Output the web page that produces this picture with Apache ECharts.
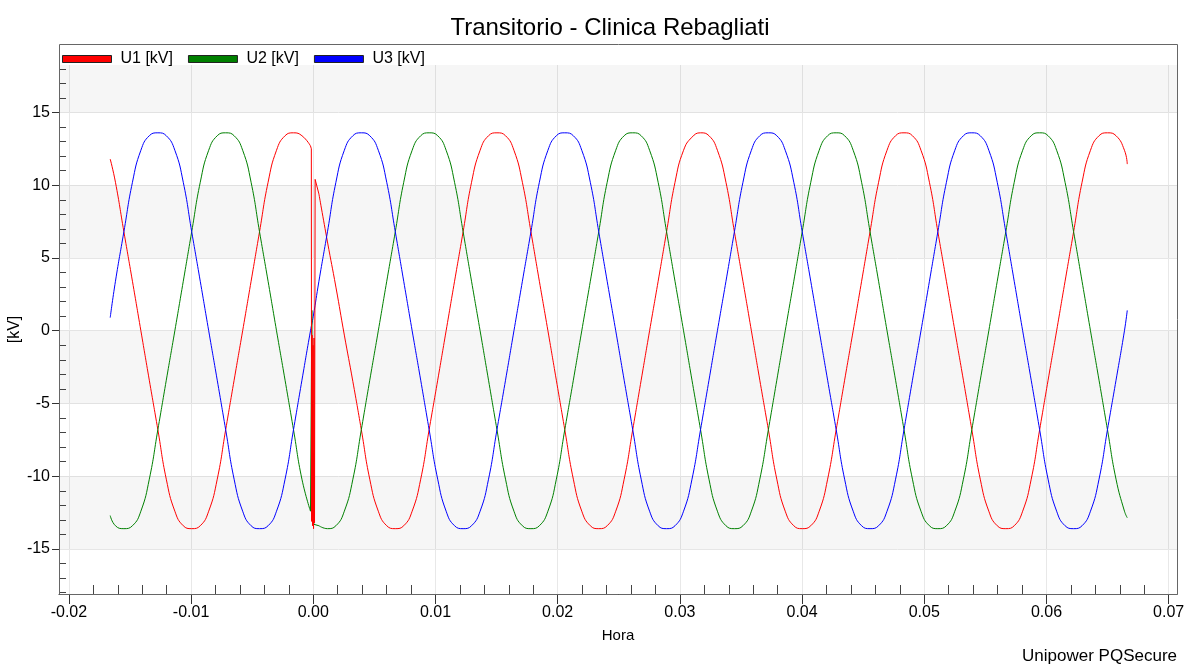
<!DOCTYPE html>
<html>
<head>
<meta charset="utf-8">
<script src="https://cdn.jsdelivr.net/npm/echarts@6/dist/echarts.min.js"></script>
<style>
  html, body { margin: 0; padding: 0; background: #ffffff; }
  #chart { width: 1185px; height: 665px; }
</style>
</head>
<body>
<div id="chart"></div>
<script>
// Sample instants [s] of the recorded waveform (null row at 0 marks the switching event)
const time = [
  -0.01662,
  -0.01619, -0.0155, -0.0148, -0.01411, -0.01342, -0.01272, -0.01203, -0.01133, -0.01064, -0.00995,
  -0.00925, -0.00856, -0.00786, -0.00717, -0.00648, -0.00578, -0.00509, -0.0044, -0.0037, -0.00301, -0.00231,
  -0.00162, -0.00093, -0.00023,
  0,
  0.00046, 0.00116, 0.00185, 0.00254, 0.00324, 0.00393, 0.00462, 0.00532, 0.00601, 0.00671, 0.0074,
  0.00809, 0.00879, 0.00948, 0.01018, 0.01087, 0.01156, 0.01226, 0.01295, 0.01365, 0.01434,
  0.01503, 0.01573, 0.01642, 0.01711, 0.01781, 0.0185, 0.0192, 0.01989, 0.02058, 0.02128, 0.02197, 0.02267,
  0.02336, 0.02405, 0.02475, 0.02544, 0.02614, 0.02683, 0.02752, 0.02822, 0.02891, 0.0296, 0.0303, 0.03099,
  0.03169, 0.03238, 0.03307, 0.03377, 0.03446, 0.03516, 0.03585, 0.03654, 0.03724, 0.03793, 0.03862, 0.03932,
  0.04001, 0.04071, 0.0414, 0.04209, 0.04279, 0.04348, 0.04418, 0.04487, 0.04556, 0.04626, 0.04695, 0.04765,
  0.04834, 0.04903, 0.04973, 0.05042, 0.05111, 0.05181, 0.0525, 0.0532, 0.05389, 0.05458, 0.05528, 0.05597,
  0.05667, 0.05736, 0.05805, 0.05875, 0.05944, 0.06013, 0.06083, 0.06152, 0.06222, 0.06291, 0.0636, 0.0643,
  0.06499, 0.06569, 0.06638,
  0.06661
];

// Phase voltages [kV]
const u1 = [
  11.8,
  10.2, 6.8, 3.4, 0.0, -3.4, -6.8, -10.2, -12.4, -13.4, -13.6,
  -13.4, -12.4, -10.2, -6.8, -3.4, 0.0, 3.4, 6.8, 10.2, 12.4, 13.4,
  13.6, 13.4, 12.7,
  null,
  9.4, 6.1, 3.0, -0.3, -3.5, -6.8, -10.2, -12.4, -13.4, -13.6, -13.4,
  -12.4, -10.2, -6.8, -3.4, 0.0, 3.4, 6.8, 10.2, 12.4, 13.4,
  13.6, 13.4, 12.4, 10.2, 6.8, 3.4, 0.0, -3.4, -6.8, -10.2, -12.4, -13.4,
  -13.6, -13.4, -12.4, -10.2, -6.8, -3.4, 0.0, 3.4, 6.8, 10.2, 12.4, 13.3,
  13.6, 13.4, 12.4, 10.2, 6.8, 3.4, 0.0, -3.4, -6.8, -10.2, -12.4, -13.4,
  -13.6, -13.4, -12.4, -10.2, -6.8, -3.4, 0.0, 3.4, 6.8, 10.2, 12.4, 13.4,
  13.6, 13.4, 12.4, 10.2, 6.8, 3.4, 0.0, -3.4, -6.8, -10.2, -12.4, -13.4,
  -13.6, -13.4, -12.4, -10.2, -6.8, -3.4, 0.0, 3.4, 6.8, 10.2, 12.4, 13.4,
  13.6, 13.4, 12.4,
  11.45
];

const u2 = [
  -12.7,
  -13.4, -13.6, -13.4, -12.4, -10.2, -6.8, -3.4, 0.0, 3.4, 6.8,
  10.2, 12.4, 13.4, 13.6, 13.4, 12.4, 10.2, 6.8, 3.4, 0.0, -3.4,
  -6.8, -10.2, -12.4,
  null,
  -13.4, -13.6, -13.4, -12.4, -10.2, -6.8, -3.4, 0.0, 3.4, 6.8, 10.2,
  12.4, 13.4, 13.6, 13.4, 12.4, 10.2, 6.8, 3.4, 0.0, -3.4,
  -6.8, -10.2, -12.4, -13.4, -13.6, -13.4, -12.4, -10.2, -6.8, -3.4, 0.0, 3.4,
  6.8, 10.2, 12.4, 13.4, 13.6, 13.4, 12.4, 10.2, 6.8, 3.4, 0.0, -3.4,
  -6.8, -10.2, -12.4, -13.4, -13.6, -13.4, -12.4, -10.2, -6.8, -3.4, 0.0, 3.4,
  6.8, 10.2, 12.4, 13.4, 13.6, 13.4, 12.4, 10.2, 6.8, 3.4, 0.0, -3.4,
  -6.8, -10.2, -12.4, -13.4, -13.6, -13.4, -12.4, -10.2, -6.8, -3.4, 0.0, 3.4,
  6.8, 10.2, 12.4, 13.4, 13.6, 13.4, 12.4, 10.2, 6.8, 3.4, 0.0, -3.4,
  -6.8, -10.2, -12.4,
  -12.85
];

const u3 = [
  0.9,
  3.4, 6.8, 10.2, 12.4, 13.4, 13.6, 13.4, 12.4, 10.2, 6.8,
  3.4, 0.0, -3.4, -6.8, -10.2, -12.4, -13.4, -13.6, -13.4, -12.4, -10.2,
  -6.8, -3.4, 0.0,
  1.0,
  3.4, 6.8, 10.2, 12.4, 13.4, 13.6, 13.4, 12.4, 10.2, 6.8, 3.4,
  0.0, -3.4, -6.8, -10.2, -12.4, -13.4, -13.6, -13.4, -12.4, -10.2,
  -6.8, -3.4, 0.0, 3.4, 6.8, 10.2, 12.4, 13.4, 13.6, 13.4, 12.4, 10.2,
  6.8, 3.4, 0.0, -3.4, -6.8, -10.2, -12.4, -13.4, -13.6, -13.4, -12.4, -10.2,
  -6.8, -3.4, 0.0, 3.4, 6.8, 10.2, 12.4, 13.4, 13.6, 13.4, 12.4, 10.2,
  6.8, 3.4, 0.0, -3.4, -6.8, -10.2, -12.4, -13.4, -13.6, -13.4, -12.4, -10.2,
  -6.8, -3.4, 0.0, 3.4, 6.8, 10.2, 12.4, 13.4, 13.6, 13.4, 12.4, 10.2,
  6.8, 3.4, 0.0, -3.4, -6.8, -10.2, -12.4, -13.4, -13.6, -13.4, -12.4, -10.2,
  -6.8, -3.4, 0.0,
  1.4
];

// Switching transient around t = 0
const transientTimeU1 = [-0.00023, -0.00016, -0.00014, -0.0001, -0.00006, -0.00002, 0.00002, 0.00006, 0.0001, 0.00015, 0.00046];
const transientU1 = [12.7, 12.5, -13.1, -0.3, -13.4, -1.0, -13.6, -0.5, -13.2, 10.4, 9.4];
const transientTimeU2 = [-0.00023, -0.00014, -0.00012, -0.00009, -0.00006, -0.00003, 0, 0.00004, 0.00046];
const transientU2 = [-12.4, -12.3, 1.4, -12.0, -4.8, -12.2, -8.4, -13.3, -13.4];

// Axis ticks
const xTicks = [-0.02, -0.01, 0, 0.01, 0.02, 0.03, 0.04, 0.05, 0.06, 0.07];
const xMinorTicks = [-0.018, -0.016, -0.014, -0.012, -0.008, -0.006, -0.004, -0.002,
  0.002, 0.004, 0.006, 0.008, 0.012, 0.014, 0.016, 0.018, 0.022, 0.024, 0.026, 0.028,
  0.032, 0.034, 0.036, 0.038, 0.042, 0.044, 0.046, 0.048, 0.052, 0.054, 0.056, 0.058,
  0.062, 0.064, 0.066, 0.068];
const yTicks = [-15, -10, -5, 0, 5, 10, 15];
const yMinorTicks = [-18, -17, -16, -14, -13, -12, -11, -9, -8, -7, -6, -4, -3, -2, -1,
  1, 2, 3, 4, 6, 7, 8, 9, 11, 12, 13, 14, 16, 17, 18];

const seriesNames = ['U1 [kV]', 'U2 [kV]', 'U3 [kV]'];
const seriesColors = ['#ff0000', '#008000', '#0000ff'];

const X_MIN = -0.02081, X_MAX = 0.07068;
const Y_MIN = -18.09, Y_MAX = 18.26;
const FONT = '"Liberation Sans", Arial, sans-serif';

// Alternating background bands of the value axis (shaded ones)
const shadedBands = [[15, Y_MAX], [5, 10], [-5, 0], [-15, -10]];

function pairs(ts, vs) {
  return ts.map((t, i) => [t, vs[i]]);
}

function waveSeries(name, color, data, smooth) {
  return {
    type: 'line',
    name: name,
    data: data,
    xAxisIndex: 0,
    yAxisIndex: 0,
    smooth: smooth,
    showSymbol: false,
    symbol: 'none',
    connectNulls: false,
    clip: true,
    color: color,
    lineStyle: { color: color, width: 1 },
    emphasis: { disabled: true },
    animation: false
  };
}

const firstSeries = waveSeries(seriesNames[0], seriesColors[0], pairs(time, u1), 0.5);
firstSeries.markArea = {
  silent: true,
  label: { show: false },
  itemStyle: { color: 'rgba(0,0,0,0.035)', borderWidth: 0 },
  data: shadedBands.map(b => [{ yAxis: b[0] }, { yAxis: b[1] }])
};

const chart = echarts.init(document.getElementById('chart'), null, { renderer: 'canvas' });

chart.setOption({
  animation: false,
  backgroundColor: '#ffffff',
  textStyle: { fontFamily: FONT },
  title: {
    text: 'Transitorio - Clinica Rebagliati',
    left: 605,
    textAlign: 'center',
    top: 11,
    textStyle: { fontFamily: FONT, fontSize: 24, fontWeight: 'normal', color: '#000000' }
  },
  legend: {
    data: seriesNames,
    left: 57,
    top: 46,
    icon: 'rect',
    itemWidth: 49,
    itemHeight: 7,
    itemGap: 15,
    itemStyle: { borderColor: '#222222', borderWidth: 1 },
    textStyle: { fontFamily: FONT, fontSize: 16, color: '#000000', padding: [0, 0, 0, 4] },
    selectedMode: false
  },
  grid: {
    left: 59, right: 8, top: 65, bottom: 71,
    outerBoundsMode: 'none',
    containLabel: false
  },
  xAxis: [
    {
      type: 'value',
      position: 'bottom',
      min: X_MIN,
      max: X_MAX,
      splitNumber: 9,
      minInterval: 0.01,
      maxInterval: 0.01,
      name: 'Hora',
      nameLocation: 'middle',
      nameGap: 34,
      nameMoveOverlap: false,
      nameTextStyle: { fontFamily: FONT, fontSize: 15, color: '#000000' },
      axisLine: { show: true, onZero: false, lineStyle: { color: '#333333', width: 1 } },
      axisTick: { show: true, inside: false, length: 10, customValues: xTicks, lineStyle: { color: '#333333' } },
      axisLabel: {
        show: true, margin: 11, customValues: xTicks,
        fontFamily: FONT, fontSize: 16, color: '#000000',
        formatter: v => v.toFixed(2)
      },
      splitLine: { show: true, lineStyle: { color: '#e8e8e8', width: 1 } },
      splitArea: { show: false }
    },
    {
      type: 'value',
      position: 'bottom',
      min: X_MIN,
      max: X_MAX,
      splitNumber: 9,
      minInterval: 0.01,
      maxInterval: 0.01,
      axisLine: { show: false, onZero: false },
      axisTick: { show: true, inside: true, length: 9, customValues: xMinorTicks, lineStyle: { color: '#444444' } },
      axisLabel: { show: false },
      splitLine: { show: false }
    }
  ],
  yAxis: [
    {
      type: 'value',
      position: 'left',
      min: Y_MIN,
      max: Y_MAX,
      splitNumber: 8,
      minInterval: 5,
      maxInterval: 5,
      name: '[kV]',
      nameLocation: 'middle',
      nameRotate: 90,
      nameGap: 36,
      nameMoveOverlap: false,
      nameTextStyle: { fontFamily: FONT, fontSize: 16, color: '#000000' },
      axisLine: { show: true, onZero: false, lineStyle: { color: '#333333', width: 1 } },
      axisTick: { show: true, inside: false, length: 7, customValues: yTicks, lineStyle: { color: '#333333' } },
      axisLabel: {
        show: true, margin: 9, customValues: yTicks,
        fontFamily: FONT, fontSize: 16, color: '#000000'
      },
      splitLine: { show: true, lineStyle: { color: '#e6e6e6', width: 1 } },
      splitArea: { show: false }
    },
    {
      type: 'value',
      position: 'left',
      min: Y_MIN,
      max: Y_MAX,
      splitNumber: 8,
      minInterval: 5,
      maxInterval: 5,
      axisLine: { show: false, onZero: false },
      axisTick: { show: true, inside: true, length: 7, customValues: yMinorTicks, lineStyle: { color: '#444444' } },
      axisLabel: { show: false },
      splitLine: { show: false }
    }
  ],
  graphic: [
    {
      type: 'rect',
      silent: true,
      z: 100,
      shape: { x: 59.5, y: 44.5, width: 1118, height: 550 },
      style: { fill: 'none', stroke: '#666666', lineWidth: 1 }
    },
    {
      type: 'text',
      silent: true,
      right: 8,
      top: 648,
      style: {
        text: 'Unipower PQSecure',
        fill: '#000000',
        font: '17px ' + FONT
      }
    }
  ],
  series: [
    firstSeries,
    waveSeries(seriesNames[1], seriesColors[1], pairs(time, u2), 0.5),
    waveSeries(seriesNames[2], seriesColors[2], pairs(time, u3), 0.5),
    waveSeries(seriesNames[1], seriesColors[1], pairs(transientTimeU2, transientU2), false),
    waveSeries(seriesNames[0], seriesColors[0], pairs(transientTimeU1, transientU1), false)
  ]
});
</script>
</body>
</html>
